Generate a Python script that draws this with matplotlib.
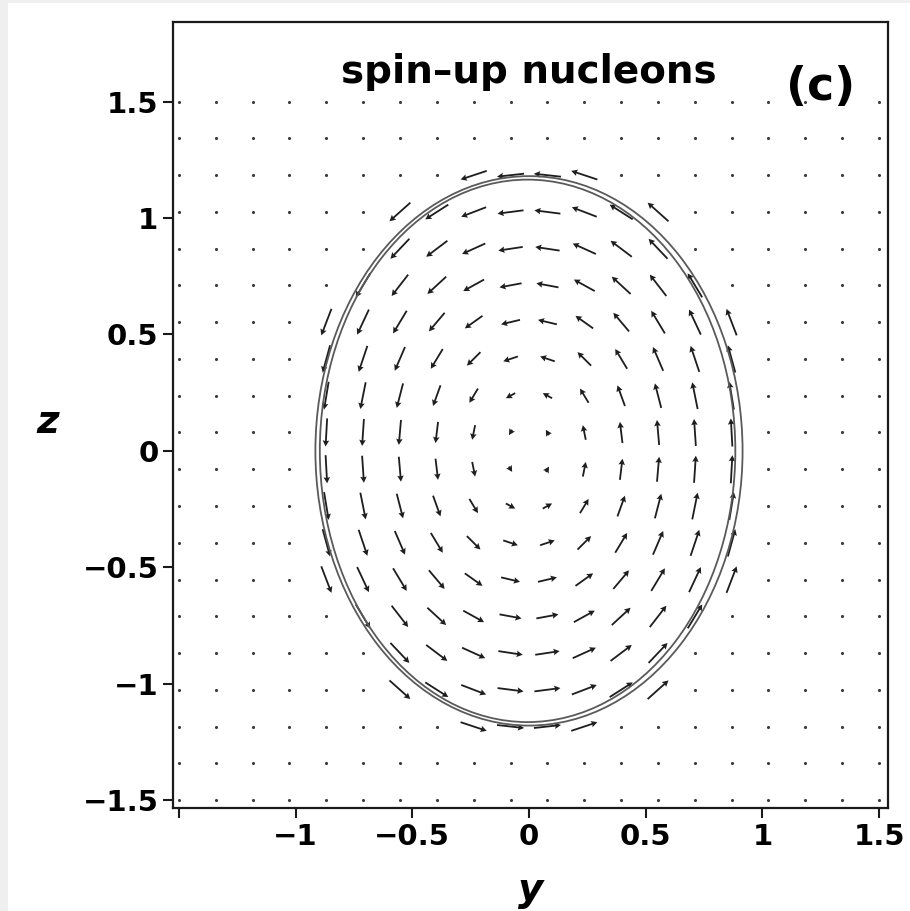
import matplotlib
matplotlib.use("Agg")
import matplotlib.pyplot as plt
from matplotlib.patches import Ellipse, Rectangle
import numpy as np

# 20x20 sampling grid (same values along y and z)
grid_vals = [-1.5, -1.342, -1.184, -1.026, -0.868, -0.711, -0.553, -0.395,
             -0.237, -0.079, 0.079, 0.237, 0.395, 0.553, 0.711, 0.868,
             1.026, 1.184, 1.342, 1.5]

# which grid points carry a current arrow ('>') or only a dot ('.'), top row first
field_rows = [
    "....................",
    "....................",
    "........>>>>........",
    "......>>>>>>>>......",
    "......>>>>>>>>......",
    ".....>>>>>>>>>>.....",
    "....>>>>>>>>>>>>....",
    "....>>>>>>>>>>>>....",
    "....>>>>>>>>>>>>....",
    "....>>>>>>>>>>>>....",
    "....>>>>>>>>>>>>....",
    "....>>>>>>>>>>>>....",
    "....>>>>>>>>>>>>....",
    "....>>>>>>>>>>>>....",
    ".....>>>>>>>>>>.....",
    "......>>>>>>>>......",
    "......>>>>>>>>......",
    "........>>>>........",
    "....................",
    "....................",
]

# nuclear surface (semi-axes along y and z) and a second contour
surf_a, surf_b = 0.915, 1.18
contour_a, contour_b, contour_y0 = 0.89, 1.165, -0.006

# arrow length scaling
arrow_max = 0.125
arrow_soft = 0.55

yticks = [-1.5, -1, -0.5, 0, 0.5, 1, 1.5]
xtick_labels = ["", "\u22121", "\u22120.5", "0", "0.5", "1", "1.5"]
ytick_labels = ["\u22121.5", "\u22121", "\u22120.5", "0", "0.5", "1", "1.5"]

Y, Z = np.meshgrid(grid_vals, grid_vals[::-1])
on = np.array([[c == ">" for c in row] for row in field_rows])

# counter-clockwise flow along ellipses similar to the surface
U = -Z * surf_a / surf_b
W = Y * surf_b / surf_a
speed = np.hypot(U, W)
length = arrow_max * np.tanh(speed / arrow_soft)
with np.errstate(invalid="ignore", divide="ignore"):
    U = np.where(speed > 0, U / speed * length, 0)
    W = np.where(speed > 0, W / speed * length, 0)

W_PX, H_PX = 910, 911
fig = plt.figure(figsize=(W_PX / 100, H_PX / 100), dpi=100, facecolor="#efefef")
fig.patches.append(Rectangle((8 / W_PX, 0), 1, 1 - 3 / H_PX, transform=fig.transFigure,
                             facecolor="white", edgecolor="none", zorder=-1))

ax = fig.add_axes([173 / W_PX, 1 - 808 / H_PX, (888 - 173) / W_PX, (808 - 22) / H_PX])
ax.set_xlim(-1.525, 1.538)
ax.set_ylim(-1.534, 1.842)

ax.scatter(Y[~on], Z[~on], s=5, color="#3a3a3a", linewidths=0)
ax.quiver(Y[on], Z[on], U[on], W[on], angles="xy", scale_units="xy", scale=1,
          units="xy", width=0.0078, headwidth=3.6, headlength=3.4,
          headaxislength=3.0, pivot="mid", color="#1e1e1e")

ax.add_patch(Ellipse((0, 0), 2 * surf_a, 2 * surf_b, fill=False,
                     edgecolor="#5a5a5a", lw=1.3))
ax.add_patch(Ellipse((contour_y0, 0), 2 * contour_a, 2 * contour_b, fill=False,
                     edgecolor="#5a5a5a", lw=1.3))

for s in ax.spines.values():
    s.set_linewidth(1.6)
    s.set_color("#1a1a1a")

ax.set_xticks(yticks)
ax.set_xticklabels(xtick_labels)
ax.set_yticks(yticks)
ax.set_yticklabels(ytick_labels)
ax.tick_params(direction="out", length=7.5, width=1.5, color="#1a1a1a",
               labelsize=21, top=False, right=False)
ax.tick_params(axis="x", pad=3)
ax.tick_params(axis="y", pad=3)
for lab in ax.get_xticklabels() + ax.get_yticklabels():
    lab.set_fontweight("bold")

ax.text(0, 1.582, "spin\u2013up nucleons", ha="center", va="baseline",
        fontsize=28, fontweight="bold")
ax.text(1.251, 1.507, "(c)", ha="center", va="baseline",
        fontsize=33, fontweight="bold")

fig.text(48 / W_PX, 1 - 422 / H_PX, "z", ha="center", va="center",
         fontsize=28, fontweight="bold", style="italic")
fig.text(531 / W_PX, 1 - 890 / H_PX, "y", ha="center", va="center",
         fontsize=28, fontweight="bold", style="italic")

fig.savefig("out.png", dpi=100, facecolor=fig.get_facecolor())
